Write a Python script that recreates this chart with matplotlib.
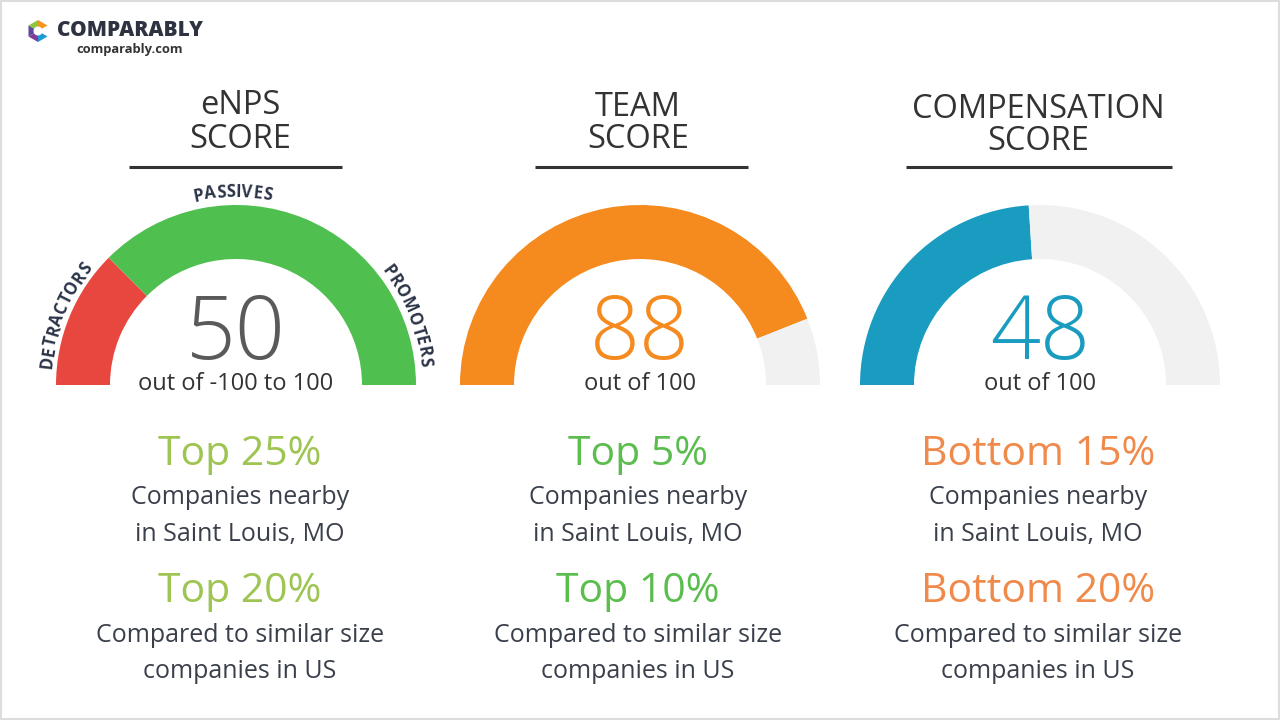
import matplotlib
matplotlib.use("Agg")
import matplotlib.pyplot as plt
from matplotlib.patches import Wedge, Polygon, Rectangle
from matplotlib.font_manager import FontProperties
from matplotlib.textpath import text_to_path
import numpy as np

# ---- data ----
titles = ["eNPS\nSCORE", "TEAM\nSCORE", "COMPENSATION\nSCORE"]
scores = [50, 88, 48]
ranges = ["out of -100 to 100", "out of 100", "out of 100"]
enps_bands = [50, 150]          # detractors (-100..-50), rest (-50..100)
enps_labels = ["DETRACTORS", "PASSIVES", "PROMOTERS"]
local_rank = ["Top 25%", "Top 5%", "Bottom 15%"]
us_rank = ["Top 20%", "Top 10%", "Bottom 20%"]
local_text = "Companies nearby\nin Saint Louis, MO"
us_text = "Compared to similar size\ncompanies in US"

score_colors = ["#5a5a5a", "#f58a1f", "#1a9bc0"]
arc_colors = [None, "#f58a1f", "#1a9bc0"]
rank_colors = ["#9ec451", "#5cbd4f", "#f08a4b"]
grey = "#f1f1f1"
dark = "#3a404b"
navy = "#2b3347"

H = 720
fig = plt.figure(figsize=(12.8, 7.2), dpi=100)
ax = fig.add_axes([0, 0, 1, 1])
ax.set_xlim(0, 1280)
ax.set_ylim(0, H)
ax.set_aspect("equal")
ax.axis("off")

FONT = "Open Sans"
px = 72 / 100.0   # points per pixel


def Y(y):
    return H - y


def put(x, y, s, size, color, weight="normal", **kw):
    ax.text(x, Y(y), s, fontsize=size, color=color, family=FONT, weight=weight,
            ha="center", va="center", **kw)


def arc_text(s, cx, cy, r, ang_mid, size, color):
    # lay letters along an arc (clockwise), centred on ang_mid (degrees)
    fp = FontProperties(family=FONT, weight="bold", size=size)
    widths = [text_to_path.get_text_width_height_descent(c, fp, ismath=False)[0] / px * 1.06
              for c in s]
    d_total = np.degrees(sum(widths) / r)
    start = ang_mid + d_total / 2
    acc = 0
    for c, w in zip(s, widths):
        ang = start - np.degrees((acc + w / 2) / r)
        t = np.radians(ang)
        x = cx + r * np.cos(t)
        y = Y(cy) + r * np.sin(t)
        ax.text(x, y, c, fontsize=size, color=color, family=FONT, weight="bold",
                ha="center", va="center", rotation=ang - 90, rotation_mode="anchor")
        acc += w


centers = [236, 640, 1040]
text_x = [240, 638, 1038]
cy = 385
R = 180
W = 54

for i in range(3):
    cx = centers[i]
    # gauge arcs
    if i == 0:
        total = sum(enps_bands)
        a1 = 180 - 180 * enps_bands[0] / total
        ax.add_patch(Wedge((cx, Y(cy)), R, a1, 180, width=W, color="#e8473f", lw=0))
        ax.add_patch(Wedge((cx, Y(cy)), R, 0, a1, width=W, color="#4fbf4f", lw=0))
    else:
        a1 = 180 - 180 * scores[i] / 100
        ax.add_patch(Wedge((cx, Y(cy)), R, a1, 180, width=W, color=arc_colors[i], lw=0))
        ax.add_patch(Wedge((cx, Y(cy)), R, 0, a1, width=W, color=grey, lw=0))

    # title + underline
    t1, t2 = titles[i].split("\n")
    ty = [106, 107, 109][i]
    put(text_x[i], ty, t1, 23.5, "#333333")
    put(text_x[i], ty + 33, t2, 23.5, "#333333")
    lx = [(129, 342), (535, 748), (906, 1172)][i]
    ax.plot(lx, [Y(167), Y(167)], color="#333333", lw=2.2, solid_capstyle="butt")

    # score
    put(cx, 336, str(scores[i]), 63, score_colors[i], weight="light")
    put(cx, 384, ranges[i], 17, "#333333")

    # ranks
    put(text_x[i], 455, local_rank[i], 29.5, rank_colors[i])
    l1, l2 = local_text.split("\n")
    put(text_x[i], 498, l1, 18, dark)
    put(text_x[i], 535, l2, 18, dark)
    put(text_x[i], 592, us_rank[i], 29.5, rank_colors[i])
    u1, u2 = us_text.split("\n")
    put(text_x[i], 635, u1, 18, dark)
    put(text_x[i], 672, u2, 18, dark)

# eNPS segment labels
arc_text(enps_labels[0], 236, 385, 190, 158, 12, navy)
arc_text(enps_labels[1], 236, 385, 193, 91, 12, navy)
arc_text(enps_labels[2], 236, 385, 190, 22, 12, navy)

# logo
ix, iy = 38, 31
hexpts = [(ix + 11 * np.cos(np.radians(a)), Y(iy) + 11 * np.sin(np.radians(a))) for a in range(30, 390, 60)]
cols = ["#f7941d", "#8dc63f", "#5b4a9b", "#7b3f98", "#1c9ad6", "#ef4136"]
for k in range(5):
    ax.add_patch(Polygon([(ix, Y(iy)), hexpts[k], hexpts[k + 1]], closed=True, color=cols[k], lw=0))
ax.add_patch(Wedge((ix, Y(iy)), 4.5, 0, 360, color="white", lw=0))
ax.text(57, Y(30), "COMPARABLY", fontsize=15, color="#2d3340", family=FONT,
        weight="heavy", ha="left", va="center")
ax.text(130, Y(50), "comparably.com", fontsize=9.3, color="#333333", family=FONT,
        weight="bold", ha="center", va="center")

# faint frame
ax.add_patch(Rectangle((1, 1), 1278, 718, fill=False, ec="#dddddd", lw=1.5))

fig.savefig("out.png", dpi=100)
